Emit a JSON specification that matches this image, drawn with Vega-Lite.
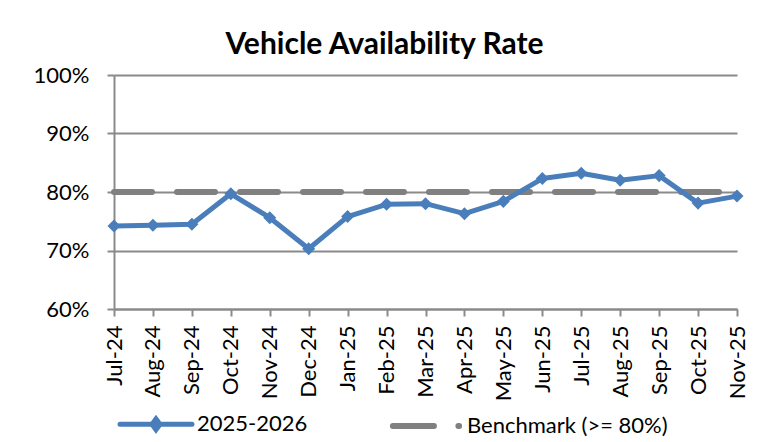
{
  "$schema": "https://vega.github.io/schema/vega-lite/v6.json",
  "width": 623,
  "height": 234,
  "autosize": {"type": "none"},
  "padding": {"left": 114, "top": 75, "right": 30, "bottom": 133},
  "background": "white",
  "title": {
    "text": "Vehicle Availability Rate",
    "font": "Lato",
    "fontSize": 30,
    "fontWeight": "bold",
    "color": "black",
    "anchor": "middle",
    "frame": "group",
    "dx": -41,
    "dy": 32,
    "baseline": "alphabetic",
    "offset": 12
  },
  "config": {
    "view": {"stroke": null},
    "legend": {"orient": "none"}
  },
  "data": {
    "values": [
      {"month": "Jul-24", "series": "2025-2026", "value": 0.742},
      {"month": "Aug-24", "series": "2025-2026", "value": 0.743},
      {"month": "Sep-24", "series": "2025-2026", "value": 0.745},
      {"month": "Oct-24", "series": "2025-2026", "value": 0.797},
      {"month": "Nov-24", "series": "2025-2026", "value": 0.756},
      {"month": "Dec-24", "series": "2025-2026", "value": 0.703},
      {"month": "Jan-25", "series": "2025-2026", "value": 0.758},
      {"month": "Feb-25", "series": "2025-2026", "value": 0.779},
      {"month": "Mar-25", "series": "2025-2026", "value": 0.780},
      {"month": "Apr-25", "series": "2025-2026", "value": 0.763},
      {"month": "May-25", "series": "2025-2026", "value": 0.784},
      {"month": "Jun-25", "series": "2025-2026", "value": 0.823},
      {"month": "Jul-25", "series": "2025-2026", "value": 0.832},
      {"month": "Aug-25", "series": "2025-2026", "value": 0.820},
      {"month": "Sep-25", "series": "2025-2026", "value": 0.828},
      {"month": "Oct-25", "series": "2025-2026", "value": 0.781},
      {"month": "Nov-25", "series": "2025-2026", "value": 0.793},
      {"month": "Jul-24", "series": "Benchmark (>= 80%)", "value": 0.8},
      {"month": "Aug-24", "series": "Benchmark (>= 80%)", "value": 0.8},
      {"month": "Sep-24", "series": "Benchmark (>= 80%)", "value": 0.8},
      {"month": "Oct-24", "series": "Benchmark (>= 80%)", "value": 0.8},
      {"month": "Nov-24", "series": "Benchmark (>= 80%)", "value": 0.8},
      {"month": "Dec-24", "series": "Benchmark (>= 80%)", "value": 0.8},
      {"month": "Jan-25", "series": "Benchmark (>= 80%)", "value": 0.8},
      {"month": "Feb-25", "series": "Benchmark (>= 80%)", "value": 0.8},
      {"month": "Mar-25", "series": "Benchmark (>= 80%)", "value": 0.8},
      {"month": "Apr-25", "series": "Benchmark (>= 80%)", "value": 0.8},
      {"month": "May-25", "series": "Benchmark (>= 80%)", "value": 0.8},
      {"month": "Jun-25", "series": "Benchmark (>= 80%)", "value": 0.8},
      {"month": "Jul-25", "series": "Benchmark (>= 80%)", "value": 0.8},
      {"month": "Aug-25", "series": "Benchmark (>= 80%)", "value": 0.8},
      {"month": "Sep-25", "series": "Benchmark (>= 80%)", "value": 0.8},
      {"month": "Oct-25", "series": "Benchmark (>= 80%)", "value": 0.8},
      {"month": "Nov-25", "series": "Benchmark (>= 80%)", "value": 0.8}
    ]
  },
  "encoding": {
    "x": {
      "field": "month",
      "type": "ordinal",
      "sort": null,
      "scale": {"type": "point", "padding": 0},
      "axis": {
        "title": null,
        "labelAngle": -90,
        "labelFont": "Lato",
        "labelFontSize": 22,
        "labelColor": "black",
        "labelPadding": 9,
        "tickSize": 7,
        "tickWidth": 2,
        "tickColor": "#8a8a8a",
        "domainColor": "#8a8a8a",
        "domainWidth": 2,
        "grid": false
      }
    },
    "y": {
      "field": "value",
      "type": "quantitative",
      "scale": {"domain": [0.6, 1.0], "nice": false, "zero": false},
      "axis": {
        "title": null,
        "values": [0.6, 0.7, 0.8, 0.9, 1.0],
        "format": ".0%",
        "labelFont": "Lato",
        "labelFontSize": 22,
        "labelColor": "black",
        "labelPadding": 18,
        "tickSize": 7,
        "tickWidth": 2,
        "tickColor": "#8a8a8a",
        "domainColor": "#8a8a8a",
        "domainWidth": 2,
        "grid": true,
        "gridColor": "#8a8a8a",
        "gridWidth": 2
      }
    }
  },
  "layer": [
    {
      "transform": [{"filter": "datum.series !== '2025-2026'"}],
      "mark": {"type": "line", "strokeWidth": 6, "strokeDash": [38, 25], "strokeCap": "round"},
      "encoding": {
        "color": {
          "field": "series",
          "type": "nominal",
          "scale": {"domain": ["2025-2026", "Benchmark (>= 80%)"], "range": ["#4A7EBB", "#808080"]},
          "legend": {
            "title": null,
            "orient": "none",
            "direction": "horizontal",
            "legendX": 31,
            "legendY": 338,
            "symbolSize": 5184,
            "symbolStrokeWidth": 5,
            "labelFont": "Lato",
            "labelFontSize": 22,
            "labelColor": "black",
            "labelLimit": 400,
            "labelOffset": 30,
            "columnPadding": 72,
            "encode": {
              "symbols": {
                "update": {
                  "shape": {"signal": "datum.value === '2025-2026' ? 'M-1,0H1M0,-0.15L0.11,0L0,0.15L-0.11,0Z' : 'M-0.92,0H0.22M0.9,0H0.92'"},
                  "fill": {"signal": "datum.value === '2025-2026' ? '#4A7EBB' : 'transparent'"},
                  "strokeWidth": {"signal": "datum.value === '2025-2026' ? 5 : 6"},
                  "strokeCap": {"value": "round"},
                  "strokeDash": {"value": [1, 0]}
                }
              }
            }
          }
        }
      }
    },
    {
      "transform": [{"filter": "datum.series === '2025-2026'"}],
      "mark": {"type": "line", "strokeWidth": 5, "strokeJoin": "round"},
      "encoding": {
        "color": {"field": "series", "type": "nominal"}
      }
    },
    {
      "transform": [{"filter": "datum.series === '2025-2026'"}],
      "mark": {"type": "point", "shape": "diamond", "filled": true, "size": 170, "color": "#4A7EBB", "opacity": 1}
    }
  ]
}
